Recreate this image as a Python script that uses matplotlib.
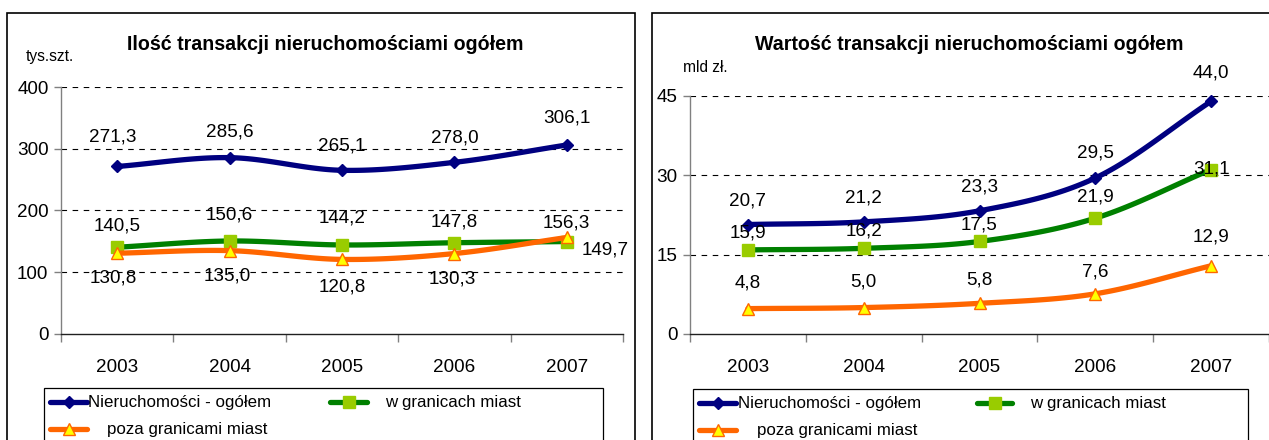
import numpy as np
import matplotlib
matplotlib.use("Agg")
import matplotlib.pyplot as plt
from matplotlib.patches import Rectangle
from matplotlib.lines import Line2D
from matplotlib import font_manager

# ---------------- data ----------------
years = ["2003", "2004", "2005", "2006", "2007"]

count_total = [271.3, 285.6, 265.1, 278.0, 306.1]
count_city = [140.5, 150.6, 144.2, 147.8, 149.7]
count_outside = [130.8, 135.0, 120.8, 130.3, 156.3]

value_total = [20.7, 21.2, 23.3, 29.5, 44.0]
value_city = [15.9, 16.2, 17.5, 21.9, 31.1]
value_outside = [4.8, 5.0, 5.8, 7.6, 12.9]

series_names = ["Nieruchomości - ogółem", "w granicach miast", "poza granicami miast"]
titles = ["Ilość transakcji nieruchomościami ogółem", "Wartość transakcji nieruchomościami ogółem"]
units = ["tys.szt.", "mld zł."]
yticks_left = [0, 100, 200, 300, 400]
yticks_right = [0, 15, 30, 45]

# ---------------- style ----------------
installed = {f.name for f in font_manager.fontManager.ttflist}
if "Liberation Sans Narrow" in installed:
    plt.rcParams['font.family'] = ['Liberation Sans Narrow', 'Liberation Sans', 'DejaVu Sans']
    FS = dict(tick=15.8, label=16.2, legend=14.6, title=17.0, unit=13.5)
else:
    plt.rcParams['font.family'] = ['Liberation Sans', 'DejaVu Sans']
    FS = dict(tick=13.6, label=13.6, legend=12.2, title=14.1, unit=11.2)

W, H = 1269, 440
NAVY = "#000080"
GREEN = "#008000"
GREEN_FILL = "#99CC00"
ORANGE = "#FF6600"
YELLOW = "#FFFF00"
LW = 3.8

fig = plt.figure(figsize=(W / 100, H / 100), dpi=100)


def fx(px):
    return px / W


def fy(py):
    return 1 - py / H


def smooth(xs, ys, n=30):
    # Catmull-Rom spline through the points (Excel-like smoothed line)
    xs = np.asarray(xs, float)
    ys = np.asarray(ys, float)
    px = np.concatenate([[2 * xs[0] - xs[1]], xs, [2 * xs[-1] - xs[-2]]])
    py = np.concatenate([[2 * ys[0] - ys[1]], ys, [2 * ys[-1] - ys[-2]]])
    ox, oy = [], []
    for i in range(1, len(px) - 2):
        t = np.linspace(0, 1, n, endpoint=(i == len(px) - 3))
        for arr, out in ((px, ox), (py, oy)):
            p0, p1, p2, p3 = arr[i - 1], arr[i], arr[i + 1], arr[i + 2]
            out.extend(0.5 * ((2 * p1) + (-p0 + p2) * t + (2 * p0 - 5 * p1 + 4 * p2 - p3) * t ** 2
                              + (-p0 + 3 * p1 - 3 * p2 + p3) * t ** 3))
    return np.array(ox), np.array(oy)


def panel(ax_rect, series, yticks, label_offsets, panel_rect, title, title_xy, unit, unit_xy, legend_cfg):
    x0, y0, x1, y1 = panel_rect
    fig.add_artist(Rectangle((fx(x0), fy(y1)), fx(x1 - x0), (y1 - y0) / H, transform=fig.transFigure,
                             fill=False, edgecolor="black", linewidth=1.2))
    ax = fig.add_axes(ax_rect)
    idx = np.arange(len(years))
    styles = [
        dict(color=NAVY, marker="D", ms=6, mfc=NAVY, mec=NAVY, z=5),
        dict(color=GREEN, marker="s", ms=8.5, mfc=GREEN_FILL, mec=GREEN_FILL, z=4),
        dict(color=ORANGE, marker="^", ms=8, mfc=YELLOW, mec=ORANGE, z=6),
    ]
    for si, (vals, st) in enumerate(zip(series, styles)):
        sx, sy = smooth(idx, vals)
        ax.plot(sx, sy, color=st["color"], lw=LW, solid_capstyle="round", zorder=st["z"], clip_on=False)
        ax.plot(idx, vals, linestyle="none", marker=st["marker"], ms=st["ms"], mfc=st["mfc"],
                mec=st["mec"], mew=1.0, zorder=st["z"] + 0.5, clip_on=False)
        for i, v in enumerate(vals):
            dx, dy = label_offsets[si][i]
            ax.annotate(f"{v:.1f}".replace(".", ","), (i, v), xytext=(dx, dy), textcoords="offset pixels",
                        ha="center", va="center", fontsize=FS["label"], zorder=10)
    ax.set_xlim(-0.5, len(years) - 0.5)
    ax.set_ylim(yticks[0], yticks[-1])
    ax.set_yticks(yticks)
    ax.set_yticklabels([str(t) for t in yticks])
    ax.set_xticks(idx)
    ax.set_xticklabels(years)
    ax.set_xticks(np.arange(-0.5, len(years)), minor=True)
    ax.tick_params(axis="x", which="major", length=0, pad=18, labelsize=FS["tick"])
    ax.tick_params(axis="x", which="minor", length=6, width=1.0, color="#808080", direction="out")
    ax.tick_params(axis="y", which="major", length=5, width=1.0, color="#808080", pad=4, labelsize=FS["tick"])
    for s in ("top", "right"):
        ax.spines[s].set_visible(False)
    ax.spines["left"].set_color("#808080")
    ax.spines["left"].set_linewidth(1.0)
    ax.spines["bottom"].set_color("#202020")
    ax.spines["bottom"].set_linewidth(1.0)
    for t in yticks[1:]:
        ax.axhline(t, color="black", lw=0.8, dashes=(5, 5), zorder=1)
    ax.patch.set_alpha(0)
    fig.text(fx(title_xy[0]), fy(title_xy[1]), title, ha="center", va="center", fontsize=FS["title"],
             fontweight="bold")
    fig.text(fx(unit_xy[0]), fy(unit_xy[1]), unit, ha="left", va="center", fontsize=FS["unit"])

    # legend (Excel-like box, partly cut by the image edge)
    lx0, ly0, lx1, ly1 = legend_cfg["box"]
    fig.add_artist(Rectangle((fx(lx0), fy(ly1)), fx(lx1 - lx0), (ly1 - ly0) / H, transform=fig.transFigure,
                             fill=False, edgecolor="black", linewidth=0.9))
    for (hx0, hx1, hy, tx), name, st in zip(legend_cfg["entries"], series_names, styles):
        fig.add_artist(Line2D([fx(hx0), fx(hx1)], [fy(hy), fy(hy)], transform=fig.transFigure,
                              color=st["color"], lw=LW, solid_capstyle="round"))
        fig.add_artist(Line2D([fx((hx0 + hx1) / 2)], [fy(hy)], transform=fig.transFigure, linestyle="none",
                              marker=st["marker"], ms=st["ms"], mfc=st["mfc"], mec=st["mec"], mew=1.0))
        fig.text(fx(tx), fy(hy), name, ha="left", va="center", fontsize=FS["legend"])
    return ax


left_offsets = [
    [(-4, 29), (0, 26), (0, 24), (0, 24), (0, 27)],
    [(0, 21), (0, 26), (0, 27), (0, 21), (38, -8)],
    [(-4, -25), (-2, -25), (0, -28), (-2, -25), (0, 14)],
]
right_offsets = [
    [(0, 24), (0, 24), (0, 24), (0, 25), (0, 28)],
    [(0, 17), (0, 17), (0, 16), (0, 21), (0, 1)],
    [(0, 26), (0, 26), (0, 23), (0, 22), (0, 29)],
]

panel([fx(61), fy(334), fx(623 - 61), (334 - 87) / H],
      [count_total, count_city, count_outside], yticks_left, left_offsets,
      (7, 13, 635, 460), titles[0], (325, 44), units[0], (26, 57),
      dict(box=(44, 388, 603, 460),
           entries=[(50, 87, 402, 88), (330, 367, 402, 385), (50, 87, 429, 107)]))

panel([fx(690), fy(334), fx(1269 - 690), (334 - 96) / H],
      [value_total, value_city, value_outside], yticks_right, right_offsets,
      (652, 13, 1290, 460), titles[1], (969, 44), units[1], (683, 68),
      dict(box=(693, 389, 1248, 460),
           entries=[(699, 736, 403, 738), (977, 1012, 403, 1030), (699, 736, 430, 757)]))

fig.savefig("out.png", dpi=100)
